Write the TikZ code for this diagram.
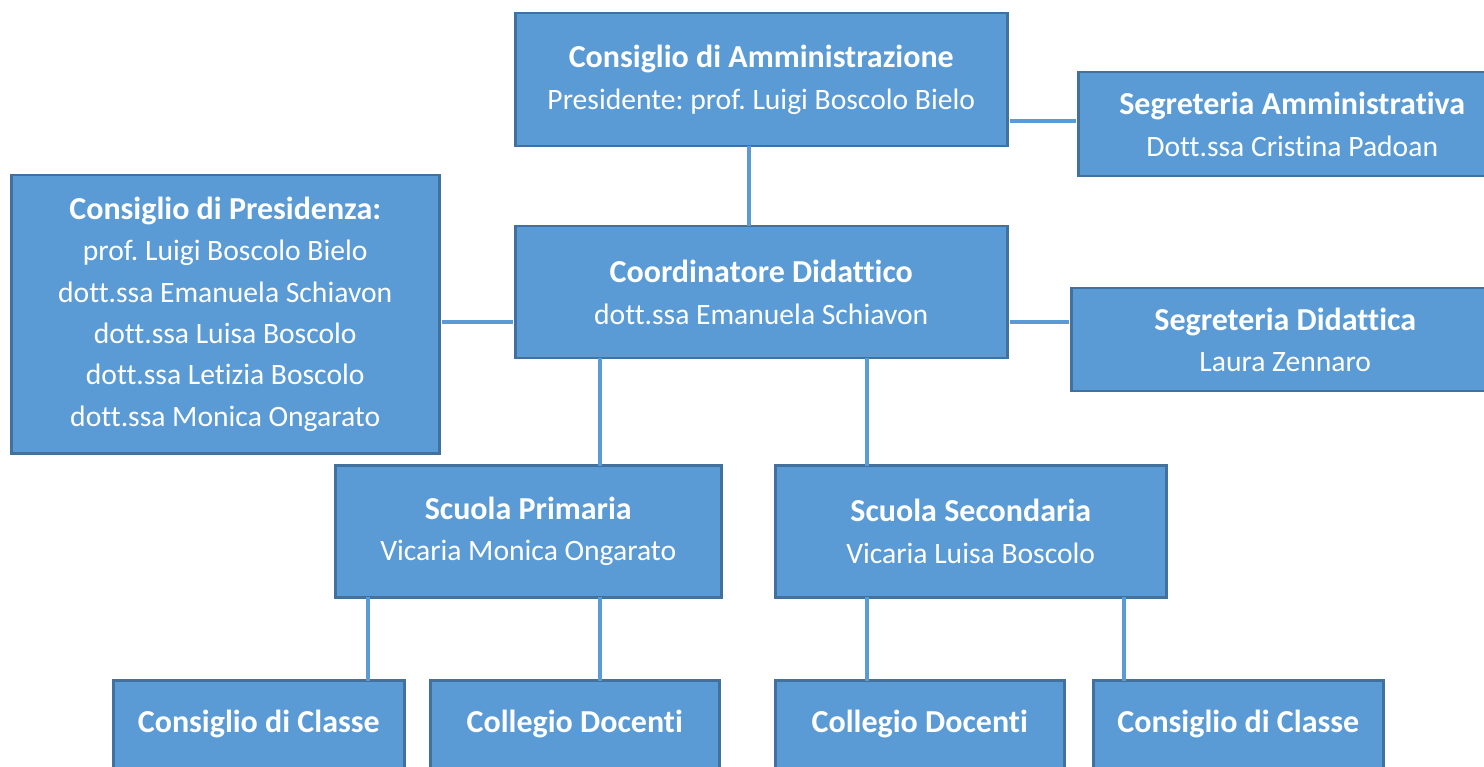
\documentclass[tikz,border=0pt]{standalone}
\usepackage{fontspec}
\setmainfont{Carlito}[Ligatures={NoCommon}]
\frenchspacing
\newcommand\ttl[1]{{\fontsize{32}{41.3}\selectfont\bfseries #1}}
\definecolor{boxfill}{HTML}{5B9BD5}
\definecolor{boxline}{HTML}{41719C}
\definecolor{conn}{HTML}{5B9BD5}
\begin{document}
\begin{tikzpicture}[x=1pt,y=-1pt,
  orgbox/.style={draw=boxline, line width=2.5pt, fill=boxfill, anchor=north west,
    inner sep=0pt, align=center, text=white, font=\fontsize{29.6}{41.3}\selectfont},
  link/.style={draw=conn, line width=3.5pt}]
\useasboundingbox (0,0) rectangle (1484,767);
\fill[white] (0,0) rectangle (1484,767);

\node[orgbox, minimum width=492pt, minimum height=133pt] (cda) at (514,12)
  {\ttl{Consiglio di Amministrazione}\\Presidente: prof. Luigi Boscolo Bielo};
\node[orgbox, minimum width=428pt, minimum height=104pt] (segamm) at (1077,71)
  {\ttl{Segreteria Amministrativa}\\Dott.ssa Cristina Padoan};
\node[orgbox, minimum width=428pt, minimum height=278pt] (pres) at (10,174)
  {\ttl{Consiglio di Presidenza:}\\prof. Luigi Boscolo Bielo\\dott.ssa Emanuela Schiavon\\dott.ssa Luisa Boscolo\\dott.ssa Letizia Boscolo\\dott.ssa Monica Ongarato};
\node[orgbox, minimum width=492pt, minimum height=132pt] (coord) at (514,225)
  {\ttl{Coordinatore Didattico}\\dott.ssa Emanuela Schiavon};
\node[orgbox, minimum width=428pt, minimum height=103pt] (segdid) at (1070,287)
  {\ttl{Segreteria Didattica}\\Laura Zennaro};
\node[orgbox, minimum width=386pt, minimum height=132pt] (prim) at (334,464)
  {\ttl{Scuola Primaria}\\Vicaria Monica Ongarato};
\node[orgbox, minimum width=391pt, minimum height=132pt] (sec) at (774,464)
  {\ttl{Scuola Secondaria}\\Vicaria Luisa Boscolo};
\node[orgbox, minimum width=291pt, minimum height=88pt] (cc1) at (112,679)
  {\ttl{Consiglio di Classe}};
\node[orgbox, minimum width=289pt, minimum height=88pt] (cd1) at (429,679)
  {\ttl{Collegio Docenti}};
\node[orgbox, minimum width=289pt, minimum height=88pt] (cd2) at (774,679)
  {\ttl{Collegio Docenti}};
\node[orgbox, minimum width=290pt, minimum height=88pt] (cc2) at (1092,679)
  {\ttl{Consiglio di Classe}};

\coordinate (xa) at (749,0);
\coordinate (xb) at (600,0);
\coordinate (xc) at (867,0);
\coordinate (xd) at (368,0);
\coordinate (xe) at (1124,0);
\coordinate (ya) at (0,121);
\coordinate (yb) at (0,322);

\draw[link] ([yshift=1.5pt]cda.south -| xa) -- ([yshift=-1.5pt]coord.north -| xa);
\draw[link] ([xshift=1.5pt]cda.east |- ya) -- ([xshift=-1.5pt]segamm.west |- ya);
\draw[link] ([xshift=1.5pt]pres.east |- yb) -- ([xshift=-1.5pt]coord.west |- yb);
\draw[link] ([xshift=1.5pt]coord.east |- yb) -- ([xshift=-1.5pt]segdid.west |- yb);
\draw[link] ([yshift=1.5pt]coord.south -| xb) -- ([yshift=-1.5pt]prim.north -| xb);
\draw[link] ([yshift=1.5pt]coord.south -| xc) -- ([yshift=-1.5pt]sec.north -| xc);
\draw[link] ([yshift=1.5pt]prim.south -| xd) -- ([yshift=-1.5pt]cc1.north -| xd);
\draw[link] ([yshift=1.5pt]prim.south -| xb) -- ([yshift=-1.5pt]cd1.north -| xb);
\draw[link] ([yshift=1.5pt]sec.south -| xc) -- ([yshift=-1.5pt]cd2.north -| xc);
\draw[link] ([yshift=1.5pt]sec.south -| xe) -- ([yshift=-1.5pt]cc2.north -| xe);
\end{tikzpicture}
\end{document}
